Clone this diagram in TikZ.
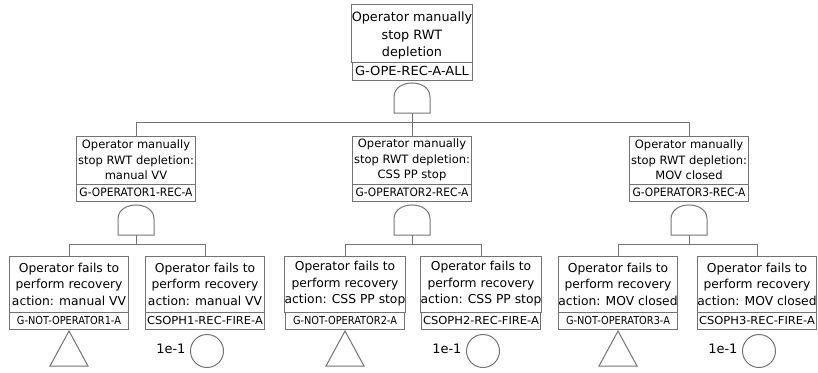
\documentclass[tikz,border=0pt]{standalone}
\usepackage{fontspec}
\setmainfont{DejaVu Sans}
\usepackage{graphicx}
\definecolor{lc}{RGB}{115,115,115}
\newcommand\fitw[2]{\resizebox{#1pt}{\height}{#2}}
\begin{document}
\begin{tikzpicture}[x=1pt,y=-1pt,
  every node/.style={inner sep=0pt, outer sep=0pt},
  box/.style={draw=lc, line width=1pt, align=center, text=black, fill=white},
  conn/.style={draw=lc, line width=1pt},
  topdesc/.style={box, minimum width=120pt, minimum height=58pt, font=\fontsize{12.8}{17.5}\selectfont},
  topid/.style={box, minimum width=120pt, minimum height=18pt, anchor=north, font=\fontsize{12.5}{14}\selectfont},
  middesc/.style={box, minimum width=119pt, minimum height=48pt, font=\fontsize{11.5}{15.5}\selectfont},
  midid/.style={box, minimum width=119pt, minimum height=17pt, anchor=north, font=\fontsize{11.5}{13}\selectfont},
  botdesc/.style={box, minimum width=119pt, minimum height=56pt, font=\fontsize{12.3}{16.5}\selectfont},
  botid/.style={box, minimum width=119pt, minimum height=17pt, anchor=north, font=\fontsize{11}{13}\selectfont},
  basic/.style={draw=lc, line width=1pt, circle, minimum size=33pt},
  prob/.style={anchor=east, font=\fontsize{13}{15}\selectfont},
  gate/.pic={\draw[conn] (-18,30) -- (-18,14) .. controls (-18,-4.7) and (18,-4.7) .. (18,14) -- (18,30) -- cycle;
             \coordinate (-out) at (0,30);}
  ]
\useasboundingbox (0,0) rectangle (818,372);

% top event
\node[topdesc] (t) at (412,33) {\rule{0pt}{15.5pt}Operator manually\\stop RWT\\depletion};
\node[topid] (tid) at (t.south) {\fitw{114}{G-OPE-REC-A-ALL}};
\pic (g0) at (412,83) {gate};
\coordinate (bus0) at (412,122);
\draw[conn] (g0-out) -- (bus0);

% middle gates
\node[middesc] (m1) at (136,160) {Operator manually\\stop RWT depletion:\\manual VV};
\node[midid] (m1id) at (m1.south) {\fitw{113}{G-OPERATOR1-REC-A}};
\node[middesc] (m2) at (412,160) {Operator manually\\stop RWT depletion:\\CSS PP stop};
\node[midid] (m2id) at (m2.south) {\fitw{113}{G-OPERATOR2-REC-A}};
\node[middesc] (m3) at (689,160) {Operator manually\\stop RWT depletion:\\MOV closed};
\node[midid] (m3id) at (m3.south) {\fitw{113}{G-OPERATOR3-REC-A}};

\draw[conn] (bus0) -| (m1.north);
\draw[conn] (bus0) -| (m3.north);
\draw[conn] (bus0) -- (m2.north);

\pic (g1) at (136,205) {gate};
\pic (g2) at (412,205) {gate};
\pic (g3) at (689,205) {gate};
\coordinate (bus1) at (136,244);
\coordinate (bus2) at (412,244);
\coordinate (bus3) at (689,244);
\draw[conn] (g1-out) -- (bus1);
\draw[conn] (g2-out) -- (bus2);
\draw[conn] (g3-out) -- (bus3);

% bottom events
\node[botdesc] (b1) at (69,284) {Operator fails to\\perform recovery\\action: manual VV};
\node[botid] (b1id) at (b1.south) {\fitw{104}{G-NOT-OPERATOR1-A}};
\node[botdesc] (b2) at (205,284) {Operator fails to\\perform recovery\\action: manual VV};
\node[botid] (b2id) at (b2.south) {\fitw{116}{CSOPH1-REC-FIRE-A}};
\node[botdesc] (b3) at (345,284) {Operator fails to\\perform recovery\\action: CSS PP stop};
\node[botid] (b3id) at (b3.south) {\fitw{104}{G-NOT-OPERATOR2-A}};
\node[botdesc] (b4) at (481,284) {Operator fails to\\perform recovery\\action: CSS PP stop};
\node[botid] (b4id) at (b4.south) {\fitw{116}{CSOPH2-REC-FIRE-A}};
\node[botdesc] (b5) at (618,284) {Operator fails to\\perform recovery\\action: MOV closed};
\node[botid] (b5id) at (b5.south) {\fitw{104}{G-NOT-OPERATOR3-A}};
\node[botdesc] (b6) at (757,284) {Operator fails to\\perform recovery\\action: MOV closed};
\node[botid] (b6id) at (b6.south) {\fitw{116}{CSOPH3-REC-FIRE-A}};

\draw[conn] (bus1) -| (b1.north);
\draw[conn] (bus1) -| (b2.north);
\draw[conn] (bus2) -| (b3.north);
\draw[conn] (bus2) -| (b4.north);
\draw[conn] (bus3) -| (b5.north);
\draw[conn] (bus3) -| (b6.north);

% transfer triangles
\draw[conn] ([yshift=-2pt]b1id.south) -- ++(-19,35) -- ++(38,0) -- cycle;
\draw[conn] ([yshift=-2pt]b3id.south) -- ++(-19,35) -- ++(38,0) -- cycle;
\draw[conn] ([yshift=-2pt]b5id.south) -- ++(-19,35) -- ++(38,0) -- cycle;

% basic events
\node[basic] (c2) at (207,351) {};
\node[prob] (p2) at ([xshift=-5pt,yshift=2pt]c2.west) {1e-1};
\node[basic] (c4) at (483,351) {};
\node[prob] (p4) at ([xshift=-5pt,yshift=2pt]c4.west) {1e-1};
\node[basic] (c6) at (759,351) {};
\node[prob] (p6) at ([xshift=-5pt,yshift=2pt]c6.west) {1e-1};
\end{tikzpicture}
\end{document}
